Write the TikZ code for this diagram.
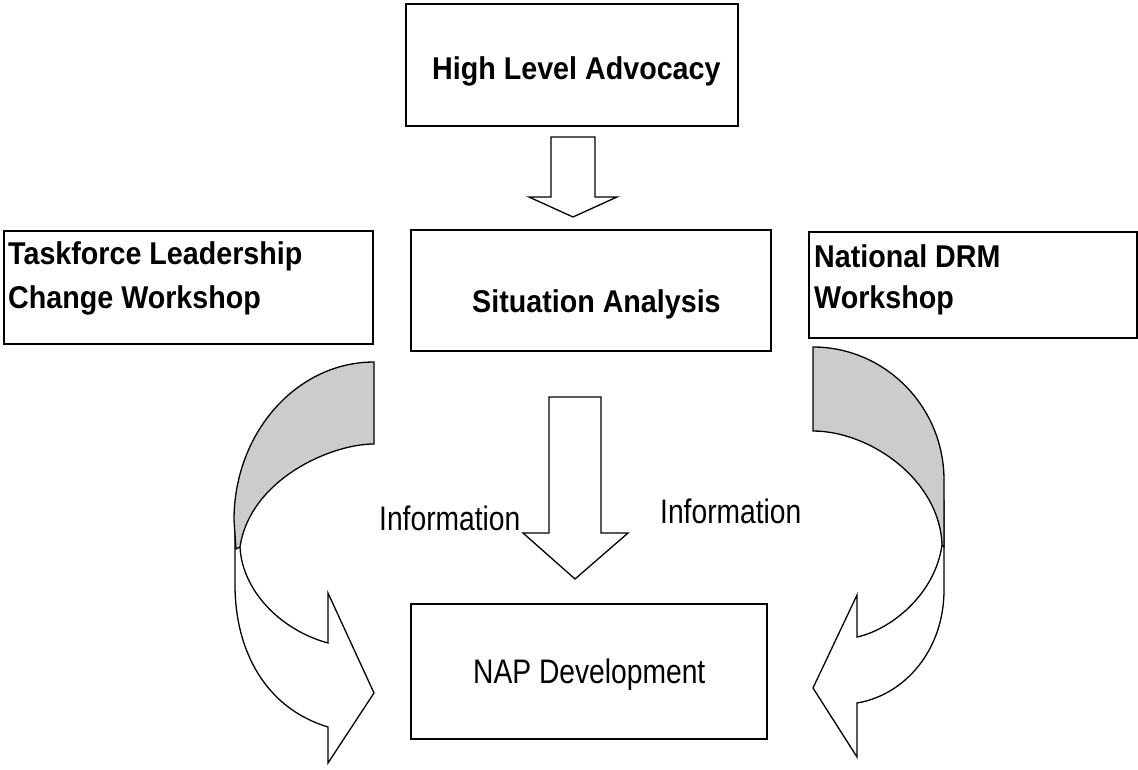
\documentclass[tikz,border=0pt]{standalone}
\usepackage{fontspec}
\newfontfamily\fbold[FakeStretch=0.91]{Liberation Sans}
\newfontfamily\freg[FakeStretch=0.83]{Liberation Sans}
\begin{document}
\begin{tikzpicture}[x=1pt,y=-1pt,
  box/.style={draw, line width=1.6pt, inner sep=0pt, anchor=north west},
  btxt/.style={inner sep=0pt, anchor=base west, font=\fbold\bfseries\fontsize{31.5}{38}\selectfont},
  rtxt/.style={inner sep=0pt, anchor=base west, font=\freg\fontsize{34}{40}\selectfont},
  blk/.style={draw, line width=1.3pt, fill=white, line join=miter},
  back/.style={draw, line width=1.3pt, fill=black!20, line join=miter}]
\fill[white] (0,0) rectangle (1138,770);
\useasboundingbox (0,0) rectangle (1138,770);

% boxes
\node[box, minimum width=332pt, minimum height=122pt] (hla) at (405,3) {};
\node[box, minimum width=360pt, minimum height=121pt] (sa) at (410,229) {};
\node[box, minimum width=369pt, minimum height=113pt] (tl) at (3,230) {};
\node[box, minimum width=328pt, minimum height=106pt] (nd) at (808,231) {};
\node[box, minimum width=356pt, minimum height=135pt] (nap) at (410,603) {};

% texts
\node[btxt] (hlat) at (432,80) {High Level Advocacy};
\node[btxt] (sat) at (472,312) {Situation Analysis};
\node[btxt] (tlt1) at (8,265) {Taskforce Leadership};
\node[btxt] (tlt2) at (8,308) {Change Workshop};
\node[btxt] (ndt1) at (814,267) {National DRM};
\node[btxt] (ndt2) at (814,308) {Workshop};
\node[rtxt] (napt) at (473,683) {NAP Development};
\node[rtxt] (infl) at (379,530) {Information};
\node[rtxt] (infr) at (660,523) {Information};

% straight block arrows
\filldraw[blk] (551,137) -- (595,137) -- (595,197) -- (617,197) -- (573,217) -- (529,197) -- (551,197) -- cycle;
\filldraw[blk] (549,397) -- (601,397) -- (601,533) -- (628,533) -- (575,579) -- (523,533) -- (549,533) -- cycle;

% left curved arrow
\filldraw[blk] (235,505) -- (235,585) .. controls (235,650) and (265,708) .. (328,727)
  -- (328,763) -- (374,693) -- (328,593) -- (328,643)
  .. controls (280,630) and (242,590) .. (240,547);
\filldraw[back] (374,362) .. controls (296.7,362) and (234,432.8) .. (234,520)
  -- (236,549) -- (240,547) .. controls (250,480) and (330,444) .. (374,444) -- cycle;

% right curved arrow
\filldraw[blk] (944,500) -- (944,590) .. controls (944,650) and (905,695) .. (857,703)
  -- (857,757) -- (813,688) -- (857,595) -- (857,637)
  .. controls (890,630) and (935,595) .. (942,545);
\filldraw[back] (813,347) .. controls (885,347) and (944,406.6) .. (944,480)
  -- (944,547) -- (942,545) .. controls (940,480) and (870,431) .. (813,431) -- cycle;
\end{tikzpicture}
\end{document}
